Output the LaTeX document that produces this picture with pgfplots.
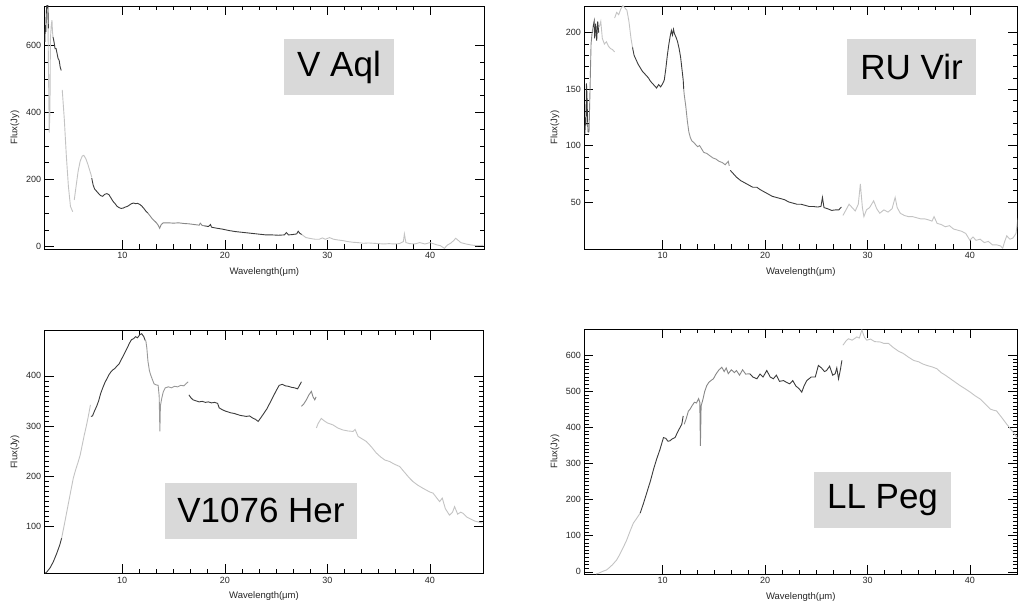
\documentclass[border=0pt]{standalone}
\usepackage{pgfplots}
\pgfplotsset{compat=1.18}
\usepackage{fontspec}
\setmainfont{Liberation Sans}
\definecolor{dk}{RGB}{60,60,60}
\definecolor{md}{RGB}{135,135,135}
\definecolor{lt}{RGB}{195,195,195}
\definecolor{boxgray}{RGB}{217,217,217}
\pgfplotsset{
  idl/.style={
    scale only axis,
    axis line style={black, line width=0.8pt},
    every tick/.style={black, line width=0.6pt},
    major tick length=9pt, minor tick length=4.5pt,
    xtick={10,20,30,40}, minor x tick num=5,
    xlabel={Wavelength(μm)}, ylabel={Flux(Jy)},
    /pgf/number format/assume math mode=true,
    ticklabel style={font=\fontsize{9}{10}\selectfont, text=black!85},
    label style={font=\fontsize{9.5}{10}\selectfont, text=black!85},
    xlabel style={at={(axis description cs:0.5,-0.095)}, anchor=center},
    ylabel style={at={(axis description cs:-0.068,0.5)}, anchor=center},
    every axis plot/.append style={line width=0.9pt, mark=none},
  }
}
\begin{document}
\begin{tikzpicture}[x=1pt,y=1pt]

% ---------------- V Aql ----------------
\begin{axis}[idl, at={(44.7pt,354pt)}, anchor=south west, width=439.3pt, height=243pt,
  xmin=2.44, xmax=45.26, ymin=-7, ymax=717, ytick={0,200,400,600}, minor y tick num=3]
\addplot[lt] coordinates {(2.75,700) (2.82,500) (2.88,340) (2.95,400) (3.0,620) (3.08,660) (3.15,675) (3.2,640) (3.25,625)};
\addplot[dk] coordinates {(2.45,610) (2.5,660) (2.55,640) (2.6,700) (2.68,730) (2.75,720) (2.8,650)};
\addplot[dk] coordinates {(3.25,625) (3.35,610) (3.45,590) (3.55,590) (3.65,575) (3.75,560) (3.85,555) (3.95,535) (4.05,525)};
\addplot[lt] coordinates {(4.15,467) (4.35,380) (4.55,270) (4.75,180) (4.95,120) (5.17,104)};
\addplot[lt] coordinates {(5.32,139) (5.5,180) (5.7,225) (5.9,255) (6.1,270) (6.25,272) (6.45,262) (6.65,245) (6.85,225) (7.02,208)};
\addplot[dk] coordinates {(7.02,205) (7.15,185) (7.3,172) (7.5,165) (7.7,158) (7.9,152) (8.1,150) (8.3,156) (8.5,158) (8.7,155) (8.9,145) (9.1,135) (9.3,128) (9.5,120) (9.7,116) (9.9,114) (10.1,115) (10.3,118) (10.5,120) (10.7,124) (10.9,128) (11.1,130) (11.3,128) (11.5,129) (11.7,126) (11.9,121) (12.1,114) (12.3,106) (12.5,100)};
\addplot[md] coordinates {(12.5,100) (12.7,92) (12.9,84) (13.1,78) (13.3,72) (13.5,64) (13.65,55) (13.8,66) (14.0,71) (14.5,71) (15,70) (15.5,71) (16,69) (16.5,68) (17,66) (17.5,64) (17.6,70) (17.8,63) (18.0,62)};
\addplot[dk] coordinates {(18.0,62) (18.4,60) (18.6,66) (18.7,58) (19.2,55) (19.8,52) (20.4,48) (21,45) (21.6,43) (22.2,41) (22.8,39) (23.4,37) (24,35) (24.6,35) (25.2,34) (25.8,35) (26.0,42) (26.2,35) (26.6,36) (27.0,38) (27.15,46) (27.3,40) (27.5,36)};
\addplot[lt] coordinates {(27.5,36) (27.9,27) (28.4,24) (28.8,22) (29.2,22) (29.5,26) (29.8,22) (30.2,27) (30.6,22) (31.0,20) (31.5,18) (32.0,15) (32.5,13) (33,12) (33.5,10) (34,11) (34.5,10) (35,9) (35.5,8) (36,9) (36.5,8) (37,9) (37.4,15) (37.5,38) (37.65,12) (38,9) (38.5,8) (39,12) (39.5,8) (40,12) (40.3,9) (40.7,5) (41,3) (41.4,-5) (41.7,5) (42,10) (42.3,18) (42.5,25) (42.7,20) (43,12) (43.5,8) (44,5) (44.5,3) (45.2,4)};
\end{axis}

% ---------------- RU Vir ----------------
\begin{axis}[idl, at={(584.3pt,354pt)}, anchor=south west, width=433pt, height=243pt,
  xmin=2.34, xmax=44.63, ymin=8.3, ymax=223.7, ytick={50,100,150,200}, minor y tick num=4]
\addplot[dk] coordinates {(2.4,110) (2.45,125) (2.5,118) (2.55,155) (2.6,145) (2.65,125) (2.72,112) (2.8,112)};
\addplot[md] coordinates {(2.8,112) (2.9,150) (3.0,190) (3.1,200) (3.2,205)};
\addplot[dk] coordinates {(3.2,205) (3.3,210) (3.35,195) (3.45,208) (3.55,193) (3.65,210) (3.75,200)};
\addplot[lt] coordinates {(3.8,205) (3.95,210) (4.1,195) (4.3,190) (4.5,192) (4.7,188) (4.9,186) (5.1,185) (5.3,183)};
\addplot[lt] coordinates {(5.3,213) (5.5,218) (5.7,216) (5.9,221) (6.1,224) (6.3,222) (6.5,220) (6.7,210) (6.9,195) (7.05,187)};
\addplot[dk] coordinates {(7.05,187) (7.2,180) (7.4,176) (7.6,172) (7.8,169) (8.0,166) (8.2,164) (8.4,162) (8.6,160) (8.8,157) (9.0,155) (9.2,153) (9.4,151) (9.6,154) (9.8,152) (10.0,155) (10.15,158) (10.3,168) (10.45,180) (10.6,190) (10.75,198) (10.85,202) (10.95,198) (11.05,203) (11.15,199) (11.3,196) (11.45,192) (11.6,186) (11.75,178) (11.9,166) (12.0,158) (12.05,150)};
\addplot[md!80!lt] coordinates {(12.05,150) (12.1,145) (12.25,135) (12.4,122) (12.55,112) (12.7,107) (12.85,104) (13.0,103) (13.2,101) (13.4,99) (13.6,100) (13.8,97) (14.0,94) (14.3,93) (14.6,91) (14.9,89) (15.2,88) (15.5,86) (15.8,85) (16.1,83) (16.4,86) (16.5,82)};
\addplot[dk] coordinates {(16.6,78) (16.9,75) (17.2,72) (17.6,69) (18.0,67) (18.4,65) (18.8,63) (19.2,63) (19.5,61) (19.9,59) (20.3,57) (20.7,55) (21.1,54) (21.5,53) (21.9,52) (22.3,50) (22.7,49) (23.1,48) (23.5,48) (23.9,47) (24.3,46) (24.7,46) (25.1,45.5) (25.45,46) (25.6,54) (25.75,45) (26.1,44) (26.5,42.5) (26.9,43) (27.2,43) (27.45,45.5)};
\addplot[lt] coordinates {(27.6,38) (27.9,43) (28.2,48) (28.5,45) (28.8,42) (29.1,48) (29.3,66) (29.5,45) (29.65,37) (29.9,43) (30.2,45) (30.6,51) (30.9,44) (31.2,40) (31.6,43) (32.0,41) (32.4,44) (32.7,54) (32.9,45) (33.2,40) (33.6,38) (34.0,37) (34.4,37) (34.8,36) (35.2,35) (35.6,35) (36.0,34) (36.3,33) (36.5,37) (36.8,31) (37.2,30) (37.6,28) (38.0,29) (38.4,26) (38.8,25) (39.2,24) (39.6,22) (39.8,19) (40.0,16) (40.3,19) (40.6,16) (41.0,17) (41.4,14) (41.8,15) (42.2,12) (42.6,12) (43.0,11) (43.2,9) (43.4,15) (43.6,20) (43.9,17) (44.2,18) (44.5,22) (44.75,40)};
\end{axis}

% ---------------- V1076 Her ----------------
\begin{axis}[idl, at={(44.7pt,29.7pt)}, anchor=south west, width=438.6pt, height=242.6pt,
  xmin=2.44, xmax=45.2, ymin=6, ymax=490, ytick={100,200,300,400}, minor y tick num=9]
\addplot[dk] coordinates {(2.5,6) (2.7,10) (3.0,18) (3.3,30) (3.6,45) (3.9,62) (4.09,76)};
\addplot[lt] coordinates {(4.09,76) (4.4,108) (4.7,140) (5.0,172) (5.23,196) (5.45,212) (5.7,228) (5.9,242) (6.1,262) (6.3,282) (6.5,300) (6.7,320) (6.9,342)};
\addplot[dk] coordinates {(6.95,319) (7.1,320) (7.3,330) (7.5,339) (7.7,350) (7.9,365) (8.1,376) (8.3,386) (8.5,394) (8.7,402) (8.9,408) (9.1,412) (9.3,415) (9.5,420) (9.7,424) (9.9,432) (10.1,440) (10.3,448) (10.5,456) (10.7,465) (10.9,472) (11.1,474) (11.3,478) (11.5,476) (11.7,482) (11.9,484) (12.1,478) (12.25,470)};
\addplot[md!70!lt] coordinates {(12.3,470) (12.4,455) (12.5,430) (12.65,410) (12.8,400) (12.95,392) (13.1,384) (13.3,382) (13.5,381) (13.6,360) (13.67,289) (13.72,340) (13.85,355) (14.0,368) (14.2,376) (14.5,378) (14.8,376) (15.1,379) (15.4,378) (15.7,381) (16.0,380) (16.2,384) (16.43,388)};
\addplot[dk] coordinates {(16.5,362) (16.7,356) (16.9,352) (17.2,350) (17.5,348) (17.8,349) (18.1,347) (18.4,348) (18.7,346) (19.0,347) (19.3,345) (19.45,336) (19.7,333) (20.0,330) (20.3,328) (20.6,326) (20.9,325) (21.2,323) (21.5,321) (21.8,320) (22.1,319) (22.4,320) (22.7,316) (23.0,313) (23.25,309) (23.5,316) (23.8,325) (24.1,334) (24.4,346) (24.7,358) (25.0,370) (25.3,381) (25.6,383) (25.9,380) (26.2,379) (26.5,377) (26.8,376) (27.1,374) (27.47,388)};
\addplot[md] coordinates {(27.47,339) (27.7,344) (27.95,352) (28.2,362) (28.44,369) (28.6,358) (28.77,352) (28.9,358)};
\addplot[lt] coordinates {(28.93,296) (29.1,305) (29.4,315) (29.7,310) (30.0,306) (30.55,302) (31.0,296) (31.5,292) (32.0,290) (32.5,289) (32.7,293) (33.0,279) (33.4,274) (33.8,269) (34.3,258) (34.77,246) (35.2,238) (35.6,232) (36.07,229) (36.5,224) (37.05,219) (37.5,208) (38.0,196) (38.34,189) (38.8,182) (39.2,177) (39.64,172) (40.0,168) (40.3,166) (40.6,158) (40.94,149) (41.2,156) (41.5,135) (41.9,122) (42.2,128) (42.4,139) (42.7,124) (43.0,128) (43.2,126) (43.6,118) (44.0,114) (44.4,110) (44.8,108) (45.1,106)};
\end{axis}

% ---------------- LL Peg ----------------
\begin{axis}[idl, at={(584.3pt,29pt)}, anchor=south west, width=433pt, height=245pt,
  xmin=2.34, xmax=44.63, ymin=-6, ymax=673, ytick={0,100,200,300,400,500,600}, minor y tick num=9]
\addplot[lt] coordinates {(3.5,-6) (3.8,-3) (4.2,2) (4.5,5) (4.8,12) (5.1,20) (5.5,33) (5.8,48) (6.1,65) (6.48,88) (6.8,112) (7.13,135) (7.5,150) (7.8,163)};
\addplot[dk] coordinates {(7.8,163) (8.1,188) (8.44,219) (8.8,252) (9.1,284) (9.4,312) (9.74,340) (10.07,372) (10.3,370) (10.5,362) (10.7,363) (10.9,368) (11.2,372) (11.5,390) (11.86,409) (12.0,432)};
\addplot[md] coordinates {(12.1,409) (12.3,425) (12.5,445) (12.67,451) (12.9,462) (13.1,470) (13.3,468) (13.5,480) (13.62,470) (13.68,349) (13.75,460) (13.9,475) (14.1,500) (14.3,516) (14.5,525) (14.7,530) (14.95,535) (15.2,548) (15.5,560) (15.77,567) (16.0,555) (16.2,565) (16.4,549) (16.7,560) (17.0,552) (17.2,558) (17.5,545) (17.8,560) (18.1,548) (18.5,549)};
\addplot[dk] coordinates {(18.5,549) (18.8,540) (19.2,535) (19.5,548) (19.8,540) (20.16,558) (20.5,540) (20.8,535) (21.1,545) (21.4,528) (21.8,530) (22.1,525) (22.4,521) (22.7,530) (23.0,515) (23.3,508) (23.58,498) (23.8,515) (24.07,530) (24.5,540) (24.9,540) (25.2,572) (25.5,565) (25.8,555) (26.0,558) (26.3,570) (26.6,545) (26.84,549) (27.0,565) (27.17,535) (27.35,560) (27.5,586)};
\addplot[lt] coordinates {(27.6,628) (27.9,640) (28.14,646) (28.5,642) (28.96,651) (29.2,648) (29.45,670) (29.7,650) (29.93,642) (30.3,645) (30.7,638) (31.24,637) (31.6,633) (32.05,633) (32.5,622) (33.0,612) (33.5,605) (34.0,595) (34.5,586) (35.0,582) (35.4,576) (35.8,572) (36.3,568) (36.77,563) (37.2,552) (37.6,545) (38.1,535) (38.6,525) (39.05,516) (39.5,508) (40.03,498) (40.5,488) (41.0,479) (41.5,465) (42.0,451) (42.3,448) (42.6,446) (43.1,428) (43.6,409) (44.2,388) (44.75,367)};
\end{axis}

% ---------------- name boxes ----------------
\tikzset{namebox/.style={fill=boxgray, inner sep=0pt, font=\fontsize{35}{40}\selectfont, text=black, minimum height=55.4pt}}
\node[namebox, minimum width=110pt] at (339pt,536pt) {V Aql};
\node[namebox, minimum width=129pt] at (911.5pt,536pt) {RU Vir};
\node[namebox, minimum width=192pt] at (261pt,92.2pt) {V1076 Her};
\node[namebox, minimum width=137pt] at (882.5pt,103pt) {LL Peg};

\pgfresetboundingbox
\useasboundingbox (0pt,0pt) rectangle (1018pt,603pt);
\end{tikzpicture}
\end{document}
